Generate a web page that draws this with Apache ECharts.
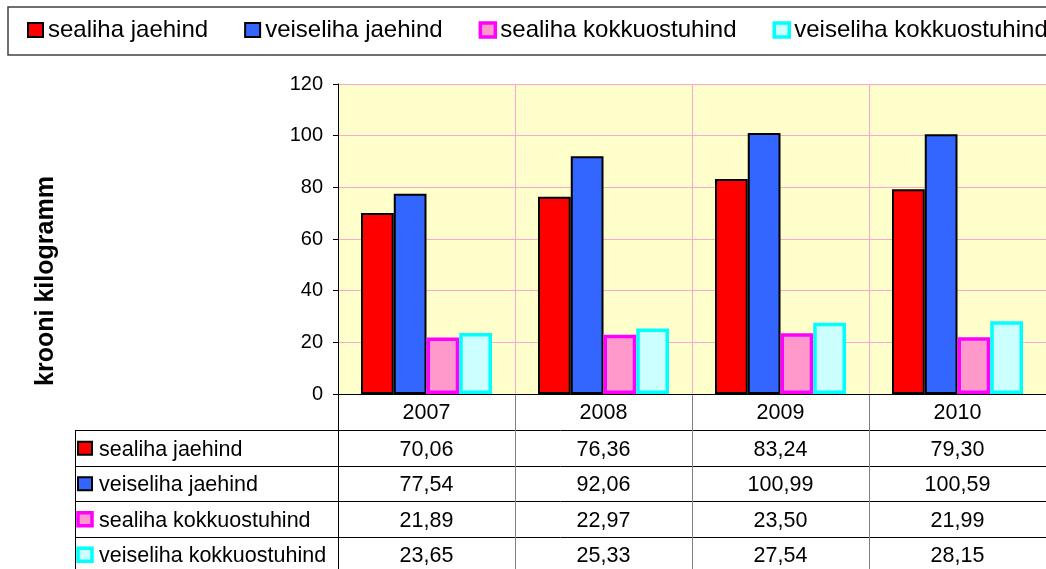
<!DOCTYPE html>
<html>
<head>
<meta charset="utf-8">
<script src="https://cdn.jsdelivr.net/npm/echarts@6/dist/echarts.min.js"></script>
<style>
html, body { margin: 0; padding: 0; background: #fff; }
#main { width: 1046px; height: 569px; }
</style>
</head>
<body>
<div id="main"></div>
<script>
// andmed
var years = ['2007', '2008', '2009', '2010'];
var sealihaJae = [70.06, 76.36, 83.24, 79.30];
var veiselihaJae = [77.54, 92.06, 100.99, 100.59];
var sealihaKokku = [21.89, 22.97, 23.50, 21.99];
var veiselihaKokku = [23.65, 25.33, 27.54, 28.15];
var seriesNames = ['sealiha jaehind', 'veiseliha jaehind', 'sealiha kokkuostuhind', 'veiseliha kokkuostuhind'];
var yTicks = [0, 20, 40, 60, 80, 100, 120];

var allValues = [sealihaJae, veiselihaJae, sealihaKokku, veiselihaKokku];
var font = "'Liberation Sans', Arial, sans-serif";
var styles = [
    {color: '#ff0000', borderColor: '#000000', borderWidth: 2},
    {color: '#3366ff', borderColor: '#000000', borderWidth: 2},
    {color: '#ff99cc', borderColor: '#ff00ff', borderWidth: 3.5},
    {color: '#ccffff', borderColor: '#00ffff', borderWidth: 3.5}
];
var pink = '#ffa6d2';

var myChart = echarts.init(document.getElementById('main'));

myChart.setOption({
    animation: false,
    textStyle: {fontFamily: font},
    legend: {
        left: 27,
        top: 18,
        width: 1200,
        padding: 0,
        itemWidth: 15,
        itemHeight: 14,
        itemGap: 36,
        icon: 'rect',
        textStyle: {fontSize: 24, color: '#000', fontFamily: font},
        data: seriesNames.map(function (n, i) {
            return {name: n, itemStyle: styles[i]};
        })
    },
    grid: {
        left: 338, right: 0, top: 84, bottom: 175,
        show: true, backgroundColor: '#ffffcc', borderWidth: 0
    },
    xAxis: {
        type: 'category',
        data: years,
        axisLine: {lineStyle: {color: '#000', width: 1}},
        axisTick: {show: false},
        axisLabel: {show: false},
        splitLine: {show: true, lineStyle: {color: pink, width: 1}}
    },
    yAxis: {
        type: 'value',
        min: yTicks[0],
        max: yTicks[yTicks.length - 1],
        interval: yTicks[1] - yTicks[0],
        axisLine: {show: true, lineStyle: {color: '#000', width: 1}},
        axisTick: {show: true, length: 5, lineStyle: {color: '#000'}},
        axisLabel: {fontSize: 20, color: '#000', margin: 15, fontFamily: font},
        splitLine: {show: true, lineStyle: {color: pink, width: 1}}
    },
    series: allValues.map(function (vals, i) {
        return {
            name: seriesNames[i],
            type: 'bar',
            data: vals,
            barGap: '0%',
            barCategoryGap: '26%',
            itemStyle: styles[i]
        };
    })
});

// tabel graafi all
function fmt(v) { return v.toFixed(2).replace('.', ','); }

var g = [];
var left = 75, axisX = 338, rightX = 1046;
var axisY = 394, headTop = 430, rowH = 35.5, bottomY = 575;

g.push({type: 'rect', shape: {x: 8, y: 7, width: 1100, height: 48},
    style: {fill: 'none', stroke: '#404040', lineWidth: 1.5}});

g.push({type: 'text', x: 46, y: 281, rotation: Math.PI / 2,
    style: {text: 'krooni kilogramm', font: 'bold 25px ' + font, fill: '#000',
        textAlign: 'center', textVerticalAlign: 'middle'}});

var centers = years.map(function (y) { return myChart.convertToPixel({xAxisIndex: 0}, y); });
var band = centers[1] - centers[0];

// horisontaalsed jooned
for (var r = 0; r <= allValues.length; r++) {
    var yy = Math.round(headTop + r * rowH) + 0.5;
    g.push({type: 'line', shape: {x1: left, y1: yy, x2: rightX, y2: yy},
        style: {stroke: '#000', lineWidth: 1}});
}
// vertikaalsed jooned
g.push({type: 'line', shape: {x1: left + 0.5, y1: headTop, x2: left + 0.5, y2: bottomY},
    style: {stroke: '#000', lineWidth: 1}});
g.push({type: 'line', shape: {x1: axisX + 0.5, y1: axisY, x2: axisX + 0.5, y2: bottomY},
    style: {stroke: '#000', lineWidth: 1}});
for (var c = 1; c < years.length; c++) {
    var xx = Math.round(centers[c] - band / 2) + 0.5;
    g.push({type: 'line', shape: {x1: xx, y1: axisY, x2: xx, y2: bottomY},
        style: {stroke: '#808080', lineWidth: 1}});
}
// aastad
years.forEach(function (y, c) {
    g.push({type: 'text', x: centers[c], y: (axisY + headTop) / 2 + 1,
        style: {text: y, font: '21.5px ' + font, fill: '#000', textAlign: 'center', textVerticalAlign: 'middle'}});
});
// read
allValues.forEach(function (vals, r) {
    var cy = headTop + (r + 0.5) * rowH + 2;
    var st = styles[r];
    g.push({type: 'rect', shape: {x: 78, y: cy - 8, width: 14, height: 13},
        style: {fill: st.color, stroke: st.borderColor, lineWidth: st.borderWidth}});
    g.push({type: 'text', x: 99, y: cy,
        style: {text: seriesNames[r], font: '21.5px ' + font, fill: '#000', textVerticalAlign: 'middle'}});
    vals.forEach(function (v, c) {
        g.push({type: 'text', x: centers[c], y: cy,
            style: {text: fmt(v), font: '21.5px ' + font, fill: '#000', textAlign: 'center', textVerticalAlign: 'middle'}});
    });
});

myChart.setOption({graphic: g});
</script>
</body>
</html>
